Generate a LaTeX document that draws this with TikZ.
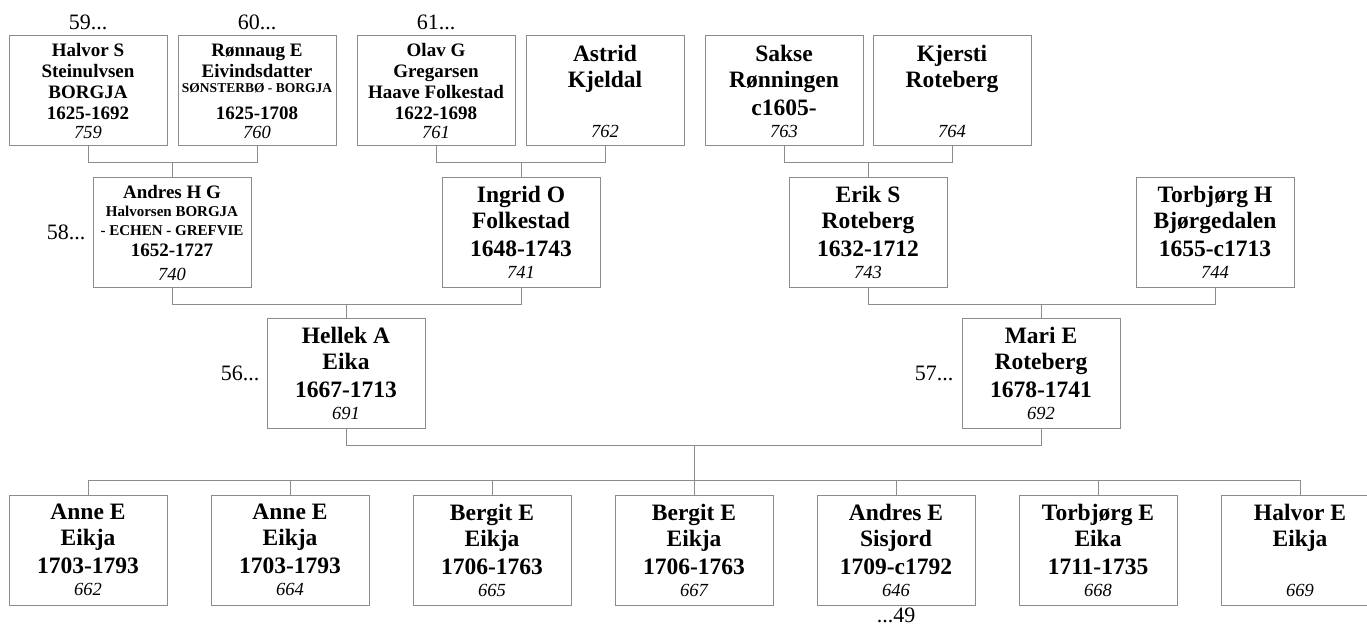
\documentclass[tikz,border=0pt]{standalone}
\usepackage{fontspec}
\setmainfont{Liberation Serif}
\usetikzlibrary{positioning}

\definecolor{framegray}{RGB}{140,140,140}
\newcommand{\idno}[1]{{\mdseries\itshape\fontsize{18.5}{20}\selectfont #1}}
\newcommand{\midname}[1]{{\fontsize{15}{15}\selectfont #1}}
\newcommand{\tinyname}[1]{{\fontsize{13.5}{14}\selectfont #1}}

\tikzset{
  person/.style={draw=framegray, line width=1pt, minimum width=158pt, minimum height=110pt, inner sep=0pt, align=center},
  bigtext/.style={font=\fontsize{23.5}{26}\selectfont\bfseries},
  smalltext/.style={font=\fontsize{19}{21}\selectfont\bfseries},
  link/.style={draw=framegray, line width=1pt},
  genlabel/.style={font=\fontsize{22}{24}\selectfont, inner sep=0pt}
}

\begin{document}
\begin{tikzpicture}[x=1pt, y=-1pt]
    \useasboundingbox (0,0) rectangle (1367,628);
    \clip (0,0) rectangle (1367,628);

    % 最上段（曾祖父母）
    \node[person, smalltext] (p759) at (88,91) {Halvor S\\Steinulvsen\\BORGJA\\1625-1692\\[-2pt]\idno{759}};
    \node[person, smalltext] (p760) at (257,91) {Rønnaug E\\Eivindsdatter\\[-6pt]\tinyname{SØNSTERBØ - BORGJA}\\[6pt]1625-1708\\[-2pt]\idno{760}};
    \node[person, smalltext] (p761) at (436,91) {Olav G\\Gregarsen\\Haave Folkestad\\1622-1698\\[-2pt]\idno{761}};
    \node[person, bigtext] (p762) at (605,91) {Astrid\\Kjeldal\\[2pt]\mbox{}\\[-4pt]\idno{762}};
    \node[person, bigtext] (p763) at (784,91) {Sakse\\Rønningen\\[2pt]c1605-\\[-4pt]\idno{763}};
    \node[person, bigtext] (p764) at (952,91) {Kjersti\\Roteberg\\[2pt]\mbox{}\\[-4pt]\idno{764}};

    % 祖父母
    \node[person, font=\fontsize{19}{19}\selectfont\bfseries] (p740) at (172,232.5) {Andres H G\\[-1pt]\midname{Halvorsen BORGJA}\\\midname{- ECHEN - GREFVIE}\\[2pt]1652-1727\\[5pt]\idno{740}};
    \node[person, bigtext] (p741) at (521,232.5) {Ingrid O\\Folkestad\\[2pt]1648-1743\\[-4pt]\idno{741}};
    \node[person, bigtext] (p743) at (868,232.5) {Erik S\\Roteberg\\[2pt]1632-1712\\[-4pt]\idno{743}};
    \node[person, bigtext] (p744) at (1215,232.5) {Torbjørg H\\Bjørgedalen\\[2pt]1655-c1713\\[-4pt]\idno{744}};

    % 両親
    \node[person, bigtext] (p691) at (346,373.5) {Hellek A\\Eika\\[2pt]1667-1713\\[-4pt]\idno{691}};
    \node[person, bigtext] (p692) at (1041,373.5) {Mari E\\Roteberg\\[2pt]1678-1741\\[-4pt]\idno{692}};

    % 子供たち
    \foreach \id/\pfirst/\plast/\pyears [count=\i from 0] in {662/Anne E/Eikja/1703-1793, 664/Anne E/Eikja/1703-1793, 665/Bergit E/Eikja/1706-1763, 667/Bergit E/Eikja/1706-1763, 646/Andres E/Sisjord/1709-c1792, 668/Torbjørg E/Eika/1711-1735, 669/Halvor E/Eikja/\mbox{}}{
        \node[person, bigtext] (p\id) at (88+202*\i,550) {\pfirst\\\plast\\[2pt]\pyears\\[-4pt]\idno{\id}};
    }

    % 世代番号
    \node[genlabel, above=5pt of p759] (g59) {59...};
    \node[genlabel, above=5pt of p760] (g60) {60...};
    \node[genlabel, above=5pt of p761] (g61) {61...};
    \node[genlabel, left=7pt of p740] (g58) {58...};
    \node[genlabel, left=7pt of p691] (g56) {56...};
    \node[genlabel, left=8pt of p692] (g57) {57...};
    \node[genlabel, below=2pt of p646] (g49) {...49};

    % 夫婦の線
    \draw[link] (p759.south) -- ++(0,16) coordinate (c759) -| (p760.south);
    \draw[link] (p740.north) -- (p740.north |- c759);
    \draw[link] (p761.south) -- ++(0,16) coordinate (c761) -| (p762.south);
    \draw[link] (p741.north) -- (p741.north |- c761);
    \draw[link] (p763.south) -- ++(0,16) coordinate (c763) -| (p764.south);
    \draw[link] (p743.north) -- (p743.north |- c763);
    \draw[link] (p740.south) -- ++(0,16) coordinate (c740) -| (p741.south);
    \draw[link] (p691.north) -- (p691.north |- c740);
    \draw[link] (p743.south) -- ++(0,16) coordinate (c743) -| (p744.south);
    \draw[link] (p692.north) -- (p692.north |- c743);

    % 兄弟の線
    \draw[link] (p691.south) -- ++(0,16) coordinate (c691) -| (p692.south);
    \draw[link] (c691 -| p667.north) -- ++(0,35) coordinate (sib);
    \draw[link] (sib -| p662.north) -- (sib -| p669.north);
    \foreach \k in {662,664,665,667,646,668,669}{
        \draw[link] (p\k.north) -- (p\k.north |- sib);
    }
\end{tikzpicture}
\end{document}
